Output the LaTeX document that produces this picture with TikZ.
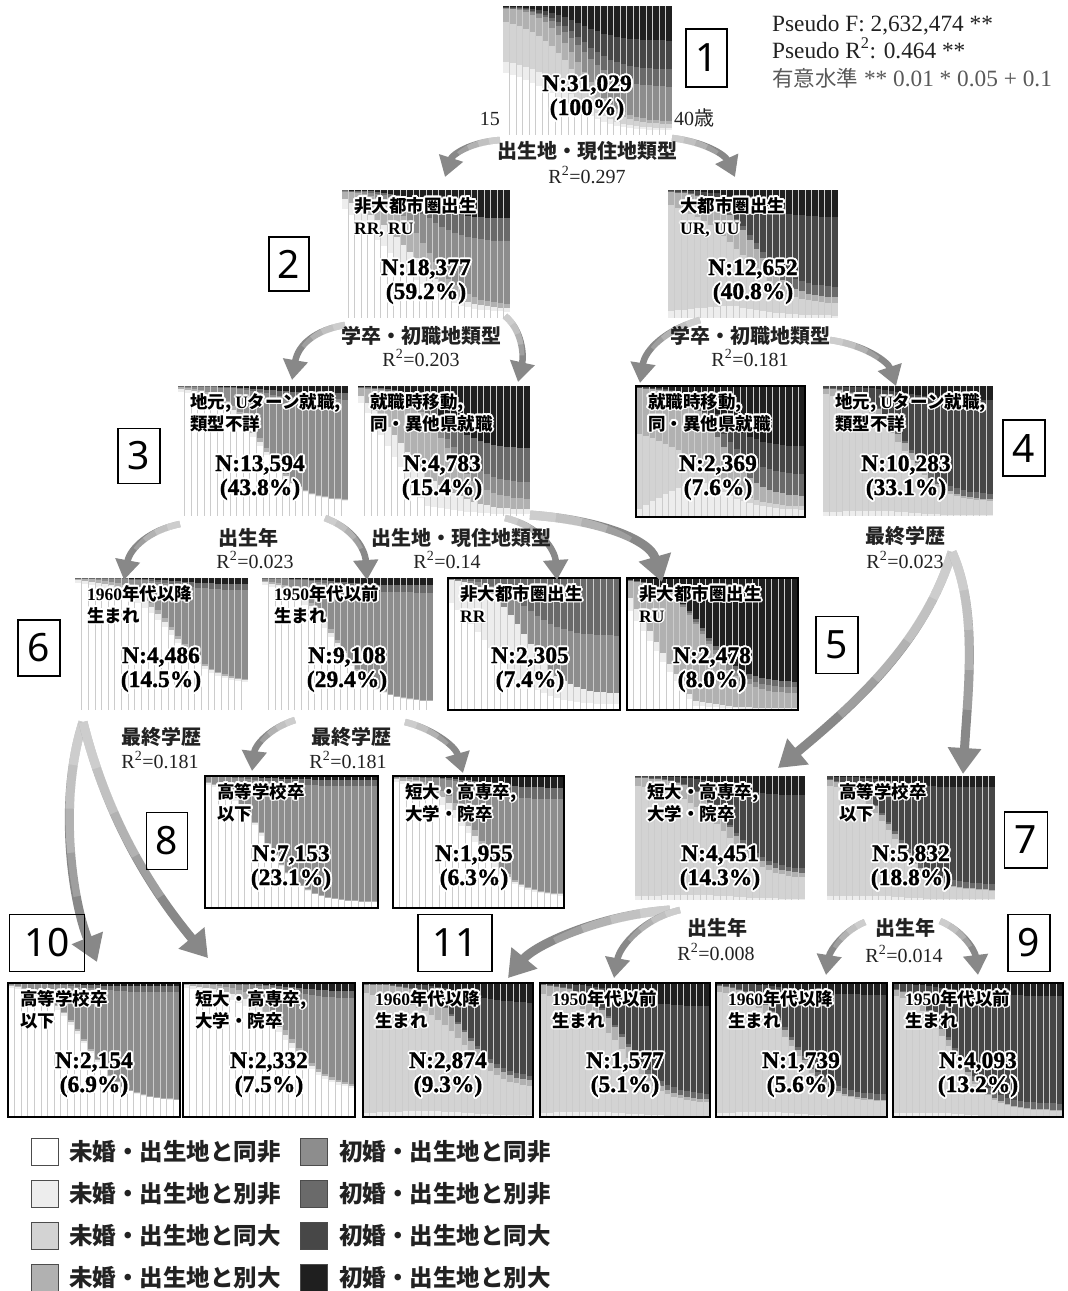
\documentclass[tikz,border=0pt]{standalone}
\usepackage{fontspec}
\setmainfont{Liberation Serif}
\newfontfamily\jp{Noto Sans CJK JP}
\newfontfamily\boxfont{Noto Sans}
\newfontfamily\nfam{Liberation Serif}[FakeBold=1.2]
\usetikzlibrary{arrows.meta}
\definecolor{c1}{HTML}{FFFFFF}
\definecolor{c2}{HTML}{EDEDED}
\definecolor{c3}{HTML}{D3D3D3}
\definecolor{c4}{HTML}{B1B1B1}
\definecolor{c5}{HTML}{8D8D8D}
\definecolor{c6}{HTML}{6A6A6A}
\definecolor{c7}{HTML}{474747}
\definecolor{c8}{HTML}{1F1F1F}
\definecolor{arrg}{HTML}{888888}
\definecolor{txt}{HTML}{222222}
\newcommand\labf{\jp\bfseries\fontsize{17.5}{20}\selectfont}
\newcommand\nf{\nfam\bfseries\fontsize{23.5}{26}\selectfont}
\newcommand\splitf{\jp\bfseries\fontsize{20}{22}\selectfont}
\newcommand\rf{\rmfamily\fontsize{20}{22}\selectfont}
\newcommand\legf{\jp\bfseries\fontsize{23.5}{25}\selectfont}
\newcommand\statf{\rmfamily\fontsize{23.3}{26}\selectfont}
\tikzset{
 arr/.style={draw=arrg, line width=6.5pt, -{Triangle[width=24pt,length=20pt]}},
 arrthick/.style={draw=arrg, line width=9pt, -{Triangle[width=32pt,length=26pt]}},
 fade/.style={
  postaction={draw=white, draw opacity=0.2, -, dash pattern=on #1pt off 3000pt},
  postaction={draw=white, draw opacity=0.2, -, dash pattern=on 2*#1pt off 3000pt},
  postaction={draw=white, draw opacity=0.2, -, dash pattern=on 3*#1pt off 3000pt},
  postaction={draw=white, draw opacity=0.2, -, dash pattern=on 4*#1pt off 3000pt}},
 numbox/.style={draw, line width=1.4pt, inner sep=0pt, font=\boxfont\fontsize{39}{39}\selectfont},
 sep/.style={draw=gray!40, line width=0.9pt},
 cborder/.style={draw=black, line width=2.6pt},
 leg/.style={draw=black!70, line width=1.2pt, minimum size=27pt, inner sep=0pt},
 splitlab/.style={font=\splitf, text=txt, inner sep=0pt},
 rlab/.style={font=\rf, text=txt, anchor=base, inner sep=0pt},
 legt/.style={font=\legf, text=txt, anchor=west, inner sep=0pt},
}
% halo text
\newcommand\hal[6]{%
  \foreach \ang [count=\q] in {0,30,...,330}{%
    \node[name=#1h\q,anchor=#2,font=#5,text=white,inner sep=0pt] at ([shift={(\ang:1.9)}]#3,#4) {#6};}%
  \node[name=#1,anchor=#2,font=#5,inner sep=0pt] at (#3,#4) {#6};}
\newcommand\clabel[5]{\hal{#1a}{base west}{#2+12}{#3+22}{\labf}{#4}\hal{#1b}{base west}{#2+12}{#3+44}{\labf}{#5}}
\newcommand\nlabel[5]{\hal{#1a}{base}{#2}{#3+85}{\nf}{#4}\hal{#1b}{base}{#2}{#3+109}{\nf}{#5}}
% chart: x0 y0 x1 y1 u1 m {start/end/colour,...} {share/colour,...}
\newcommand\chart[8]{%
 \fill[c8] (#1,#2) rectangle (#3,#4);
 \pgfmathsetmacro\cw{(#3-#1)/26}%
 \pgfmathsetmacro\cH{#4-#2}%
 \foreach \i in {0,...,25}{%
  \pgfmathsetmacro\ct{(\i+0.5)/26}%
  \pgfmathsetmacro\cu{#5+(1-#5)/(1+exp((\ct-#6)/0.11))}%
  \pgfmathsetmacro\cf{min(1,\ct*2.5)}%
  \pgfmathsetmacro\cm{(1-\cu)*\cH}%
  \pgfmathsetmacro\cxa{#1+\i*\cw}%
  \pgfmathsetmacro\cxb{#1+(\i+1)*\cw}%
  \xdef\cy{#4}%
  \foreach \sa/\sb/\col in {#7}{%
   \pgfmathsetmacro\ch{(\sa*(1-\cf)+\sb*\cf)*\cu*\cH}%
   \pgfmathsetmacro\cyn{\cy-\ch}%
   \fill[\col] (\cxa,\cy) rectangle (\cxb,\cyn);
   \xdef\cy{\cyn}}%
  \foreach \sb/\col in {#8}{%
   \pgfmathsetmacro\ch{\sb*\cm}%
   \pgfmathsetmacro\cyn{\cy-\ch}%
   \fill[\col] (\cxa,\cy) rectangle (\cxb,\cyn);
   \xdef\cy{\cyn}}%
 }%
 \foreach \i in {1,...,25}{\draw[sep] (#1+\i*\cw,#2) -- (#1+\i*\cw,#4);}%
}
\begin{document}
\begin{tikzpicture}[x=1pt,y=-1pt]
\useasboundingbox (0,0) rectangle (1068,1291);
\fill[white] (0,0) rectangle (1068,1291);
% ---------- charts
\chart{503}{6}{672}{135}{0.1}{0.45}{0.5/0.35/c1,0.08/0.15/c2,0.32/0.3/c3,0.1/0.2/c4}{0.3/c5,0.15/c6,0.25/c7}
\chart{342}{190}{510}{318}{0.1}{0.5}{0.88/0.45/c1,0.07/0.25/c2,0.05/0.3/c4}{0.55/c5,0.2/c6}
\chart{668}{190}{838}{318}{0.15}{0.5}{0.05/0.12/c2,0.85/0.6/c3,0.1/0.28/c4}{0.1/c6,0.65/c7}
\chart{178}{386}{348}{516}{0.12}{0.5}{0.97/0.9/c1,0.02/0.05/c2,0.01/0.05/c4}{0.88/c5,0.06/c6}
\chart{358}{386}{530}{516}{0.12}{0.5}{0.92/0.1/c1,0.04/0.3/c2,0.04/0.6/c4}{0.15/c5,0.3/c6}
\chart{636}{386}{805}{517}{0.15}{0.5}{0.05/0.35/c2,0.6/0.15/c3,0.35/0.5/c4}{0.2/c6,0.25/c7}
\chart{823}{386}{993}{516}{0.12}{0.48}{0.03/0.05/c2,0.92/0.85/c3,0.05/0.1/c4}{0.05/c6,0.83/c7}
\chart{75}{578}{248}{710}{0.22}{0.57}{0.97/0.9/c1,0.02/0.06/c2,0.01/0.04/c4}{0.88/c5,0.06/c6}
\chart{262}{578}{433}{710}{0.07}{0.44}{0.97/0.9/c1,0.02/0.06/c2,0.01/0.04/c4}{0.88/c5,0.06/c6}
\chart{448}{578}{620}{710}{0.12}{0.45}{0.85/0.35/c1,0.15/0.65/c2}{0.5/c5,0.5/c6}
\chart{627}{578}{798}{710}{0.12}{0.45}{0.8/0.05/c1,0.1/0.05/c2,0.1/0.9/c4}{0.05/c5,0.05/c6}
\chart{205}{776}{378}{908}{0.05}{0.35}{0.98/0.95/c1,0.02/0.03/c2,0/0.02/c4}{0.92/c5,0.05/c6}
\chart{393}{776}{564}{908}{0.1}{0.5}{0.97/0.85/c1,0.02/0.08/c2,0.01/0.07/c4}{0.8/c5,0.1/c6}
\chart{635}{776}{805}{900}{0.2}{0.55}{0.03/0.05/c2,0.9/0.8/c3,0.07/0.15/c4}{0.05/c6,0.75/c7}
\chart{827}{776}{995}{900}{0.08}{0.4}{0.03/0.05/c2,0.92/0.87/c3,0.05/0.08/c4}{0.05/c6,0.85/c7}
\chart{8}{983}{180}{1117}{0.13}{0.45}{0.98/0.95/c1,0.02/0.03/c2,0/0.02/c4}{0.92/c5,0.05/c6}
\chart{183}{983}{355}{1117}{0.22}{0.62}{0.97/0.88/c1,0.02/0.06/c2,0.01/0.06/c4}{0.85/c5,0.07/c6}
\chart{363}{983}{533}{1117}{0.25}{0.6}{0.03/0.05/c2,0.9/0.8/c3,0.07/0.15/c4}{0.05/c6,0.75/c7}
\chart{540}{983}{710}{1117}{0.12}{0.5}{0.03/0.05/c2,0.9/0.8/c3,0.07/0.15/c4}{0.05/c6,0.75/c7}
\chart{716}{983}{887}{1117}{0.12}{0.45}{0.03/0.05/c2,0.92/0.87/c3,0.05/0.08/c4}{0.05/c6,0.85/c7}
\chart{893}{983}{1063}{1117}{0.05}{0.35}{0.03/0.05/c2,0.92/0.87/c3,0.05/0.08/c4}{0.05/c6,0.85/c7}
% borders
\draw[cborder] (636,386) rectangle (805,517);
\draw[cborder] (448,578) rectangle (620,710);
\draw[cborder] (627,578) rectangle (798,710);
\draw[cborder] (205,776) rectangle (378,908);
\draw[cborder] (393,776) rectangle (564,908);
\draw[cborder] (8,983) rectangle (180,1117);
\draw[cborder] (183,983) rectangle (355,1117);
\draw[cborder] (363,983) rectangle (533,1117);
\draw[cborder] (540,983) rectangle (710,1117);
\draw[cborder] (716,983) rectangle (887,1117);
\draw[cborder] (893,983) rectangle (1063,1117);
% ---------- chart labels
\clabel{l2}{342}{190}{非大都市圏出生}{{\rmfamily RR, RU}}
\clabel{lUR}{668}{190}{大都市圏出生}{{\rmfamily UR, UU}}
\clabel{l3a}{178}{386}{地元, {\rmfamily U}ターン就職,}{類型不詳}
\clabel{l3b}{358}{386}{就職時移動,}{同・異他県就職}
\clabel{l3c}{636}{386}{就職時移動,}{同・異他県就職}
\clabel{l4}{823}{386}{地元, {\rmfamily U}ターン就職,}{類型不詳}
\clabel{l6a}{75}{578}{{\rmfamily 1960}年代以降}{生まれ}
\clabel{l6b}{262}{578}{{\rmfamily 1950}年代以前}{生まれ}
\clabel{lRR}{448}{578}{非大都市圏出生}{{\rmfamily RR}}
\clabel{lRU}{627}{578}{非大都市圏出生}{{\rmfamily RU}}
\clabel{l8a}{205}{776}{高等学校卒}{以下}
\clabel{l8b}{393}{776}{短大・高専卒,}{大学・院卒}
\clabel{l5a}{635}{776}{短大・高専卒,}{大学・院卒}
\clabel{l7}{827}{776}{高等学校卒}{以下}
\clabel{l10a}{8}{983}{高等学校卒}{以下}
\clabel{l10b}{183}{983}{短大・高専卒,}{大学・院卒}
\clabel{l11a}{363}{983}{{\rmfamily 1960}年代以降}{生まれ}
\clabel{l11b}{540}{983}{{\rmfamily 1950}年代以前}{生まれ}
\clabel{l9a}{716}{983}{{\rmfamily 1960}年代以降}{生まれ}
\clabel{l9b}{893}{983}{{\rmfamily 1950}年代以前}{生まれ}
% ---------- N labels
\nlabel{n1}{587}{6}{N:31,029}{(100\%)}
\nlabel{n2}{426}{190}{N:18,377}{(59.2\%)}
\nlabel{nUR}{753}{190}{N:12,652}{(40.8\%)}
\nlabel{n3a}{260}{386}{N:13,594}{(43.8\%)}
\nlabel{n3b}{442}{386}{N:4,783}{(15.4\%)}
\nlabel{n3c}{718}{386}{N:2,369}{(7.6\%)}
\nlabel{n4}{906}{386}{N:10,283}{(33.1\%)}
\nlabel{n6a}{161}{578}{N:4,486}{(14.5\%)}
\nlabel{n6b}{347}{578}{N:9,108}{(29.4\%)}
\nlabel{nRR}{530}{578}{N:2,305}{(7.4\%)}
\nlabel{nRU}{712}{578}{N:2,478}{(8.0\%)}
\nlabel{n8a}{291}{776}{N:7,153}{(23.1\%)}
\nlabel{n8b}{474}{776}{N:1,955}{(6.3\%)}
\nlabel{n5a}{720}{776}{N:4,451}{(14.3\%)}
\nlabel{n7}{911}{776}{N:5,832}{(18.8\%)}
\nlabel{n10a}{94}{983}{N:2,154}{(6.9\%)}
\nlabel{n10b}{269}{983}{N:2,332}{(7.5\%)}
\nlabel{n11a}{448}{983}{N:2,874}{(9.3\%)}
\nlabel{n11b}{625}{983}{N:1,577}{(5.1\%)}
\nlabel{n9a}{801}{983}{N:1,739}{(5.6\%)}
\nlabel{n9b}{978}{983}{N:4,093}{(13.2\%)}
% axis labels
\node[font=\rf, text=txt, anchor=base east, inner sep=0pt] (a15) at (500,125) {15};
\node[font=\rf, text=txt, anchor=base west, inner sep=0pt] (a40) at (674,125) {40{\jp 歳}};
% ---------- arrows
\coordinate (p1s) at (500,140); \coordinate (p1e) at (445,177);
\coordinate (p2s) at (672,138); \coordinate (p2e) at (735,177);
\coordinate (p3s) at (345,325); \coordinate (p3e) at (292,380);
\coordinate (p4s) at (505,316); \coordinate (p4e) at (518,382);
\coordinate (p5s) at (700,320); \coordinate (p5e) at (640,383);
\coordinate (p6s) at (830,340); \coordinate (p6e) at (896,386);
\coordinate (p7s) at (180,524); \coordinate (p7e) at (124,580);
\coordinate (p8s) at (325,518); \coordinate (p8e) at (367,580);
\coordinate (p9s) at (505,518); \coordinate (p9e) at (557,580);
\coordinate (p10s) at (530,515); \coordinate (p10e) at (662,582);
\coordinate (p11s) at (952,552); \coordinate (p11e) at (778,768);
\coordinate (p12e) at (963,774);
\coordinate (p13s) at (83,722); \coordinate (p13e) at (97,962);
\coordinate (p14e) at (208,958);
\coordinate (p15s) at (295,720); \coordinate (p15e) at (252,771);
\coordinate (p16s) at (405,722); \coordinate (p16e) at (463,773);
\coordinate (p17s) at (670,910); \coordinate (p17e) at (508,978);
\coordinate (p18s) at (680,910); \coordinate (p18e) at (614,978);
\coordinate (p19s) at (865,922); \coordinate (p19e) at (826,975);
\coordinate (p20s) at (940,921); \coordinate (p20e) at (978,975);
\draw[arr,fade=11] (p1s) .. controls (470,142) and (452,155) .. (p1e);
\draw[arr,fade=12] (p2s) .. controls (705,142) and (725,155) .. (p2e);
\draw[arr,fade=12] (p3s) .. controls (315,330) and (298,345) .. (p3e);
\draw[arr,fade=11] (p4s) .. controls (522,330) and (524,355) .. (p4e);
\draw[arr,fade=14] (p5s) .. controls (665,330) and (645,350) .. (p5e);
\draw[arr,fade=13] (p6s) .. controls (865,345) and (888,362) .. (p6e);
\draw[arr,fade=13] (p7s) .. controls (150,530) and (130,548) .. (p7e);
\draw[arr,fade=12] (p8s) .. controls (352,528) and (365,548) .. (p8e);
\draw[arr,fade=13] (p9s) .. controls (540,526) and (555,550) .. (p9e);
\draw[arrthick,fade=26] (p10s) .. controls (600,520) and (650,540) .. (p10e);
\draw[arrthick,fade=50] (p11s) .. controls (925,640) and (860,700) .. (p11e);
\draw[arrthick,fade=40] (p11s) .. controls (978,610) and (968,690) .. (p12e);
\draw[arrthick,fade=44] (p13s) .. controls (58,800) and (72,900) .. (p13e);
\draw[arrthick,fade=48] (p13s) .. controls (110,830) and (160,900) .. (p14e);
\draw[arr,fade=10] (p15s) .. controls (270,728) and (255,745) .. (p15e);
\draw[arr,fade=12] (p16s) .. controls (430,728) and (455,745) .. (p16e);
\draw[arrthick,fade=30] (p17s) .. controls (600,915) and (535,945) .. (p17e);
\draw[arr,fade=15] (p18s) .. controls (645,918) and (620,945) .. (p18e);
\draw[arr,fade=10] (p19s) .. controls (845,930) and (830,950) .. (p19e);
\draw[arr,fade=10] (p20s) .. controls (962,930) and (975,950) .. (p20e);
% ---------- split labels
\node[splitlab] (s1) at (587,151) {出生地・現住地類型};
\node[rlab] (r1) at (587,183) {R\textsuperscript{2}=0.297};
\node[splitlab] (s2) at (421,336) {学卒・初職地類型};
\node[rlab] (r2) at (421,366) {R\textsuperscript{2}=0.203};
\node[splitlab] (s3) at (750,336) {学卒・初職地類型};
\node[rlab] (r3) at (750,366) {R\textsuperscript{2}=0.181};
\node[splitlab] (s4) at (248,538) {出生年};
\node[rlab] (r4) at (255,568) {R\textsuperscript{2}=0.023};
\node[splitlab] (s5) at (461,538) {出生地・現住地類型};
\node[rlab] (r5) at (447,568) {R\textsuperscript{2}=0.14};
\node[splitlab] (s6) at (905,536) {最終学歴};
\node[rlab] (r6) at (905,568) {R\textsuperscript{2}=0.023};
\node[splitlab] (s7) at (161,737) {最終学歴};
\node[rlab] (r7) at (160,768) {R\textsuperscript{2}=0.181};
\node[splitlab] (s8) at (351,737) {最終学歴};
\node[rlab] (r8) at (348,768) {R\textsuperscript{2}=0.181};
\node[splitlab] (s9) at (717,928) {出生年};
\node[rlab] (r9) at (716,960) {R\textsuperscript{2}=0.008};
\node[splitlab] (s10) at (905,928) {出生年};
\node[rlab] (r10) at (904,962) {R\textsuperscript{2}=0.014};
% ---------- number boxes
\node[numbox, minimum width=41pt, minimum height=58pt] (b1) at (706.5,58) {1};
\node[numbox, minimum width=40pt, minimum height=54pt] (b2) at (289,264) {2};
\node[numbox, minimum width=42pt, minimum height=55pt] (b3) at (139,456) {3};
\node[numbox, minimum width=42pt, minimum height=56pt] (b4) at (1024,448) {4};
\node[numbox, minimum width=42pt, minimum height=57pt] (b5) at (837,645) {5};
\node[numbox, minimum width=42pt, minimum height=56pt] (b6) at (39,648) {6};
\node[numbox, minimum width=43pt, minimum height=56pt] (b7) at (1026,840) {7};
\node[numbox, minimum width=41pt, minimum height=57pt] (b8) at (167,841) {8};
\node[numbox, minimum width=42pt, minimum height=57pt] (b9) at (1029,943) {9};
\node[numbox, minimum width=75pt, minimum height=57pt] (b10) at (47,943) {10};
\node[numbox, minimum width=74pt, minimum height=57pt] (b11) at (455,943) {11};
% ---------- stats
\node[font=\statf, text=txt, anchor=base west, inner sep=0pt] (st1) at (772,31) {Pseudo F: 2,632,474 **};
\node[font=\statf, text=txt, anchor=base west, inner sep=0pt] (st2) at (772,58) {Pseudo R\textsuperscript{2}: 0.464 **};
\node[font=\statf, text=black!65, anchor=base west, inner sep=0pt] (st3) at (772,86) {{\jp\fontsize{21.5}{24}\selectfont 有意水準} ** 0.01 * 0.05 + 0.1};
% ---------- legend
\node[leg, fill=c1] (k1) at (45,1152) {};
\node[leg, fill=c2] (k2) at (45,1194) {};
\node[leg, fill=c3] (k3) at (45,1236) {};
\node[leg, fill=c4] (k4) at (45,1278) {};
\node[leg, fill=c5] (k5) at (314,1152) {};
\node[leg, fill=c6] (k6) at (314,1194) {};
\node[leg, fill=c7] (k7) at (314,1236) {};
\node[leg, fill=c8] (k8) at (314,1278) {};
\node[legt] (t1) at (69,1152) {未婚・出生地と同非};
\node[legt] (t2) at (69,1194) {未婚・出生地と別非};
\node[legt] (t3) at (69,1236) {未婚・出生地と同大};
\node[legt] (t4) at (69,1278) {未婚・出生地と別大};
\node[legt] (t5) at (339,1152) {初婚・出生地と同非};
\node[legt] (t6) at (339,1194) {初婚・出生地と別非};
\node[legt] (t7) at (339,1236) {初婚・出生地と同大};
\node[legt] (t8) at (339,1278) {初婚・出生地と別大};
\end{tikzpicture}
\end{document}
